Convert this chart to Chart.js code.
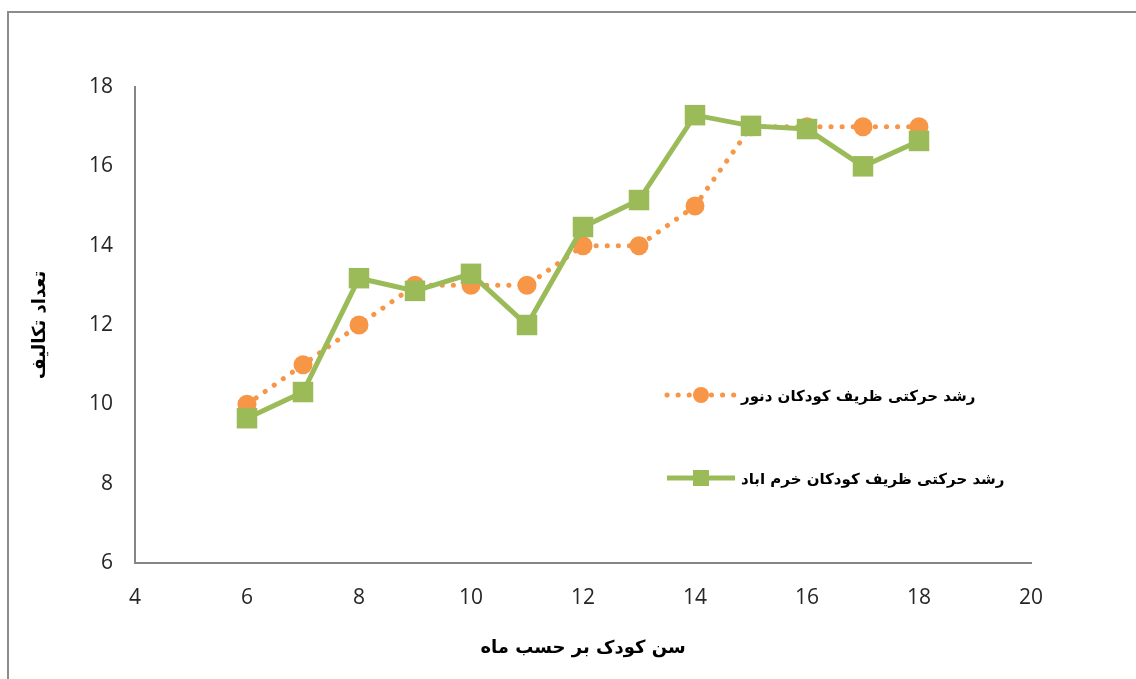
<!DOCTYPE html>
<html>
<head>
<meta charset="utf-8">
<script src="https://cdn.jsdelivr.net/npm/chart.js@4/dist/chart.umd.min.js"></script>
<style>
  html, body { margin: 0; padding: 0; background: #fff; overflow: hidden; }
  #c { display: block; }
</style>
</head>
<body>
<canvas id="c" width="1136" height="679"></canvas>
<script>
// Child age in months
const ages = [6, 7, 8, 9, 10, 11, 12, 13, 14, 15, 16, 17, 18];
// Number of tasks — Denver fine-motor norms
const denverValues = [10, 11, 12, 13, 13, 13, 14, 14, 15, 17, 17, 17, 17];
// Number of tasks — Khorramabad children
const khorramabadValues = [9.65, 10.31, 13.18, 12.86, 13.29, 12.0, 14.47, 15.15, 17.29, 17.02, 16.94, 16.0, 16.64];

const denverLabel = 'رشد حرکتی ظریف کودکان دنور';
const khorramabadLabel = 'رشد حرکتی ظریف کودکان خرم اباد';
const xTitle = 'سن کودک بر حسب ماه';
const yTitle = 'تعداد تکالیف';

const ORANGE = '#F79646';
const GREEN = '#9BBB59';
const AXIS = '#868686';
const persianFont = '"DejaVu Sans", sans-serif';
const tickFont = '"Open Sans", "Liberation Sans", sans-serif';

const toPoints = (vals) => ages.map((a, i) => ({ x: a, y: vals[i] }));

// Outer frame around the chart
const framePlugin = {
  id: 'frame',
  beforeDraw(chart) {
    const ctx = chart.ctx;
    ctx.save();
    ctx.fillStyle = '#fff';
    ctx.fillRect(0, 0, chart.width, chart.height);
    ctx.strokeStyle = '#8c8c8c';
    ctx.lineWidth = 2;
    ctx.strokeRect(8, 12, 1200, 800);
    ctx.restore();
  }
};

// Legend drawn inside the plot area, line sample on the left, text to its right
const insideLegend = {
  id: 'insideLegend',
  afterDraw(chart) {
    const ctx = chart.ctx;
    const entries = [
      { ds: chart.data.datasets[0], y: 395 },
      { ds: chart.data.datasets[1], y: 478 }
    ];
    ctx.save();
    entries.forEach(({ ds, y }) => {
      const x0 = 667, x1 = 735, mx = 701;
      ctx.strokeStyle = ds.borderColor;
      ctx.lineWidth = ds.borderWidth;
      ctx.lineCap = ds.borderCapStyle || 'butt';
      ctx.setLineDash(ds.borderDash || []);
      ctx.beginPath();
      ctx.moveTo(x0, y);
      ctx.lineTo(x1, y);
      ctx.stroke();
      ctx.setLineDash([]);
      ctx.fillStyle = ds.pointBackgroundColor;
      if (ds.pointStyle === 'rect') {
        ctx.fillRect(mx - 8, y - 8, 16, 16);
      } else {
        ctx.beginPath();
        ctx.arc(mx, y, 8, 0, Math.PI * 2);
        ctx.fill();
      }
      ctx.fillStyle = '#000';
      ctx.font = 'bold 15px ' + persianFont;
      ctx.textBaseline = 'middle';
      ctx.textAlign = 'left';
      ctx.fillText(ds.label, 741, y + 2);
    });
    ctx.restore();
  }
};

new Chart(document.getElementById('c'), {
  type: 'line',
  data: {
    datasets: [
      {
        label: denverLabel,
        data: toPoints(denverValues),
        borderColor: ORANGE,
        backgroundColor: ORANGE,
        pointBackgroundColor: ORANGE,
        pointBorderColor: ORANGE,
        borderWidth: 5,
        borderDash: [0.1, 11],
        borderCapStyle: 'round',
        pointStyle: 'circle',
        pointRadius: 9.5,
        pointBorderWidth: 0,
        tension: 0,
        order: 2
      },
      {
        label: khorramabadLabel,
        data: toPoints(khorramabadValues),
        borderColor: GREEN,
        backgroundColor: GREEN,
        pointBackgroundColor: GREEN,
        pointBorderColor: GREEN,
        borderWidth: 5,
        pointStyle: 'rect',
        pointRadius: 14.5,
        pointBorderWidth: 0,
        tension: 0,
        order: 1
      }
    ]
  },
  options: {
    responsive: false,
    animation: false,
    events: [],
    layout: { padding: { left: 30, right: 105, top: 87, bottom: 20 } },
    plugins: {
      legend: { display: false },
      tooltip: { enabled: false }
    },
    scales: {
      x: {
        type: 'linear',
        min: 4,
        max: 20,
        ticks: {
          stepSize: 2,
          color: '#262626',
          font: { family: tickFont, size: 21 },
          padding: 22
        },
        grid: { display: false, drawTicks: false },
        border: { display: true, color: AXIS, width: 2 },
        title: {
          display: true,
          text: xTitle,
          color: '#000',
          font: { family: persianFont, size: 18, weight: 'bold' },
          padding: { top: 10, bottom: 0 }
        },
        afterFit(scale) { scale.height = 679 - 563 - 20; }
      },
      y: {
        min: 6,
        max: 18,
        ticks: {
          stepSize: 2,
          color: '#262626',
          font: { family: tickFont, size: 21 },
          padding: 22
        },
        grid: { display: false, drawTicks: false },
        border: { display: true, color: AXIS, width: 2 },
        title: {
          display: true,
          text: yTitle,
          color: '#000',
          font: { family: persianFont, size: 18, weight: 'bold' },
          padding: { top: 0, bottom: 0 }
        },
        afterFit(scale) { scale.width = 135 - 30; }
      }
    }
  },
  plugins: [framePlugin, insideLegend]
});
</script>
</body>
</html>
